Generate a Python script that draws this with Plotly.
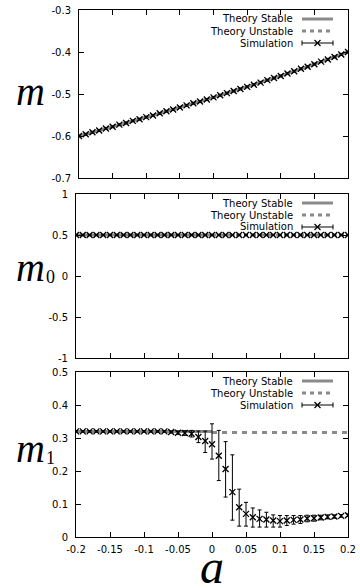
import plotly.graph_objects as go

# ---------------- data ----------------
a_vals = [round(-0.2 + 0.01 * i, 2) for i in range(41)]

m_sim = [-0.600, -0.596, -0.591, -0.587, -0.582, -0.578, -0.573, -0.569, -0.564, -0.560,
         -0.555, -0.551, -0.546, -0.541, -0.537, -0.532, -0.527, -0.522, -0.518, -0.513,
         -0.508, -0.503, -0.498, -0.493, -0.488, -0.483, -0.478, -0.473, -0.467, -0.462,
         -0.457, -0.451, -0.446, -0.440, -0.435, -0.429, -0.423, -0.418, -0.412, -0.406,
         -0.400]
m_err = [0.002] * 41
m_theory = m_sim

m0_sim = [0.5] * 41
m0_err = [0.002] * 41
m0_stable_a = [-0.2, 0.0]
m0_stable = [0.5, 0.5]
m0_unstable_a = [0.0, 0.2]
m0_unstable = [0.5, 0.5]

m1_sim = [0.320, 0.320, 0.320, 0.320, 0.320, 0.320, 0.320, 0.320, 0.320, 0.320,
          0.320, 0.320, 0.320, 0.320, 0.318, 0.316, 0.315, 0.313, 0.303, 0.291,
          0.281, 0.246, 0.206, 0.136, 0.090, 0.070, 0.060, 0.055, 0.053, 0.050,
          0.048, 0.050, 0.052, 0.053, 0.056, 0.057, 0.059, 0.061, 0.062, 0.064,
          0.066]
m1_err_up = [0.002] * 14 + [0.003, 0.005, 0.007, 0.010, 0.018, 0.030,
                            0.062, 0.077, 0.083, 0.113, 0.055, 0.035, 0.028, 0.027, 0.022, 0.017,
                            0.017, 0.015, 0.013, 0.012, 0.010, 0.009, 0.007, 0.006, 0.005, 0.004,
                            0.004]
m1_err_dn = [0.002] * 14 + [0.003, 0.005, 0.007, 0.010, 0.017, 0.035,
                            0.045, 0.075, 0.085, 0.085, 0.057, 0.037, 0.030, 0.025, 0.023, 0.020,
                            0.018, 0.015, 0.013, 0.012, 0.010, 0.009, 0.007, 0.006, 0.005, 0.004,
                            0.004]
m1_stable_a = [-0.2, 0.0]
m1_stable = [0.320, 0.320]
m1_unstable_a = [0.0, 0.2]
m1_unstable = [0.317, 0.317]

x_ticks = [-0.2, -0.15, -0.1, -0.05, 0, 0.05, 0.1, 0.15, 0.2]
x_ticklabels = ["-0.2", "-0.15", "-0.1", "-0.05", "0", "0.05", "0.1", "0.15", "0.2"]
y1_ticks = [-0.7, -0.6, -0.5, -0.4, -0.3]
y1_ticklabels = ["-0.7", "-0.6", "-0.5", "-0.4", "-0.3"]
y2_ticks = [-1, -0.5, 0, 0.5, 1]
y2_ticklabels = ["-1", "-0.5", "0", "0.5", "1"]
y3_ticks = [0, 0.1, 0.2, 0.3, 0.4, 0.5]
y3_ticklabels = ["0", "0.1", "0.2", "0.3", "0.4", "0.5"]
legend_labels = ["Theory Stable", "Theory Unstable", "Simulation"]

# ---------------- style ----------------
W, H = 360, 588
GRAY = "#8a8a8a"
FONT = "DejaVu Sans"

fig = go.Figure()


def px_x(x):
    return x / W


def px_y(y):
    return 1 - y / H


def add_sim(xa, ya, y, up, dn):
    fig.add_trace(go.Scatter(
        x=a_vals, y=y, mode="markers", xaxis=xa, yaxis=ya,
        marker=dict(symbol="x-thin", size=6, line=dict(color="black", width=1.3)),
        error_y=dict(type="data", array=up, arrayminus=dn, color="black",
                     thickness=1, width=2),
        showlegend=False, hoverinfo="skip"))


def add_theory(xa, ya, x, y, dash):
    fig.add_trace(go.Scatter(
        x=x, y=y, mode="lines", xaxis=xa, yaxis=ya,
        line=dict(color=GRAY, width=3, dash=dash),
        showlegend=False, hoverinfo="skip"))


# panel 1
add_theory("x", "y", a_vals, m_theory, "solid")
add_sim("x", "y", m_sim, m_err, m_err)
# panel 2
add_theory("x2", "y2", m0_stable_a, m0_stable, "solid")
add_theory("x2", "y2", m0_unstable_a, m0_unstable, "4px,4px")
add_sim("x2", "y2", m0_sim, m0_err, m0_err)
# panel 3
add_theory("x3", "y3", m1_stable_a, m1_stable, "solid")
add_theory("x3", "y3", m1_unstable_a, m1_unstable, "5px,5px")
add_sim("x3", "y3", m1_sim, m1_err_up, m1_err_dn)

# panel geometry in pixels: (left, right, top, bottom)
panels = [(79, 348, 10, 178), (76, 348, 194, 358), (76, 348, 372, 537)]

axis_common = dict(showline=True, linecolor="black", linewidth=1, mirror="ticks",
                   ticks="inside", ticklen=5, tickcolor="black", tickwidth=1,
                   showgrid=False, zeroline=False, automargin=False,
                   tickfont=dict(family=FONT, size=10, color="black"))

layout = dict(width=W, height=H, margin=dict(l=0, r=0, t=0, b=0),
              paper_bgcolor="white", plot_bgcolor="white", showlegend=False)

yinfo = [([-0.7, -0.3], y1_ticks, y1_ticklabels),
         ([-1, 1], y2_ticks, y2_ticklabels),
         ([0, 0.5], y3_ticks, y3_ticklabels)]

for i, (l, r, t, b) in enumerate(panels):
    sx = "" if i == 0 else str(i + 1)
    layout["xaxis" + sx] = dict(axis_common, domain=[px_x(l), px_x(r)], range=[-0.2, 0.2],
                                tickvals=x_ticks, ticktext=x_ticklabels,
                                showticklabels=(i == 2), anchor="y" + sx, ticklabelstandoff=3)
    rng, tv, tt = yinfo[i]
    layout["yaxis" + sx] = dict(axis_common, domain=[px_y(b), px_y(t)], range=rng,
                                tickvals=tv, ticktext=tt, anchor="x" + sx,
                                ticklabelstandoff=5)

fig.update_layout(**layout)

# y axis labels: italic m plus subscript digit
ylab = [("m", None, 30, 92), ("m", "0", 30, 267), ("m", "1", 30, 448)]
for base, sub, cx, cy in ylab:
    fig.add_annotation(text="<i>" + base + "</i>", x=px_x(cx), y=px_y(cy),
                       xref="paper", yref="paper", showarrow=False,
                       xanchor="center", yanchor="middle",
                       font=dict(family="Liberation Serif", size=40, color="black"))
    if sub:
        fig.add_annotation(text=sub, x=px_x(cx + 20), y=px_y(cy + 10),
                           xref="paper", yref="paper", showarrow=False,
                           xanchor="center", yanchor="middle",
                           font=dict(family="Liberation Serif", size=18, color="black"))

fig.add_annotation(text="<i>a</i>", x=px_x(212), y=px_y(566), xref="paper", yref="paper",
                   showarrow=False, xanchor="center", yanchor="middle",
                   font=dict(family="Liberation Serif", size=48, color="black"))

# manual gnuplot-style legends
for (l, r, t, b) in panels:
    rows = [t + 9, t + 21, t + 33]
    for j, lab in enumerate(legend_labels):
        fig.add_annotation(text=lab, x=px_x(295), y=px_y(rows[j]), xref="paper", yref="paper",
                           showarrow=False, xanchor="right", yanchor="middle",
                           font=dict(family=FONT, size=10, color="black"))
    x0, x1 = 302, 333
    fig.add_shape(type="line", xref="paper", yref="paper", x0=px_x(x0), x1=px_x(x1),
                  y0=px_y(rows[0]), y1=px_y(rows[0]), line=dict(color=GRAY, width=3))
    fig.add_shape(type="line", xref="paper", yref="paper", x0=px_x(x0), x1=px_x(x1),
                  y0=px_y(rows[1]), y1=px_y(rows[1]), line=dict(color=GRAY, width=3, dash="4px,4px"))
    yy = rows[2]
    fig.add_shape(type="line", xref="paper", yref="paper", x0=px_x(x0), x1=px_x(x1),
                  y0=px_y(yy), y1=px_y(yy), line=dict(color="black", width=1))
    for xc in (x0, x1):
        fig.add_shape(type="line", xref="paper", yref="paper", x0=px_x(xc), x1=px_x(xc),
                      y0=px_y(yy - 2.5), y1=px_y(yy + 2.5), line=dict(color="black", width=1))
    xm = (x0 + x1) / 2
    fig.add_shape(type="line", xref="paper", yref="paper", x0=px_x(xm - 3), x1=px_x(xm + 3),
                  y0=px_y(yy - 3), y1=px_y(yy + 3), line=dict(color="black", width=1.2))
    fig.add_shape(type="line", xref="paper", yref="paper", x0=px_x(xm - 3), x1=px_x(xm + 3),
                  y0=px_y(yy + 3), y1=px_y(yy - 3), line=dict(color="black", width=1.2))

fig.write_html("out.html", config={"displayModeBar": False},
               post_script="document.body.style.margin='0';document.body.style.overflow='hidden';")
